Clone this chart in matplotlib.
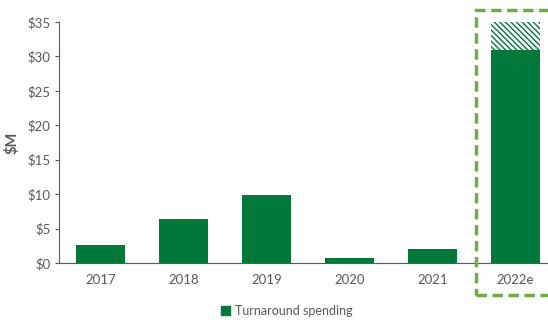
import matplotlib.pyplot as plt
from matplotlib.patches import Rectangle, Patch

years = ["2017", "2018", "2019", "2020", "2021", "2022e"]
spending = [2.6, 6.4, 9.9, 0.7, 2.0, 31.0]
upside = [0, 0, 0, 0, 0, 4.0]
yticks = [0, 5, 10, 15, 20, 25, 30, 35]

green = "#00783a"
gray = "#595959"
plt.rcParams["font.family"] = ["Lato", "DejaVu Sans"]
plt.rcParams["hatch.color"] = green
plt.rcParams["hatch.linewidth"] = 1.0

fig = plt.figure(figsize=(5.48, 3.22), dpi=100)
ax = fig.add_axes([0.1077, 0.1832, 0.9088, 0.7484])

x = range(len(years))
ax.bar(x, spending, width=0.58, color=green)
ax.bar(x, upside, width=0.58, bottom=spending, color="white",
       hatch="\\\\\\\\\\\\", edgecolor=green, linewidth=0)

ax.set_xlim(-0.5, 5.5)
ax.set_ylim(0, 35)
ax.set_yticks(yticks)
ax.set_yticklabels([f"${v}" for v in yticks], color=gray, fontsize=9.5)
ax.set_xticks(list(x))
ax.set_xticklabels(years, color=gray, fontsize=9.5)
ax.tick_params(axis="x", length=0, pad=8)
ax.tick_params(axis="y", length=3, color=gray, pad=3)
ax.set_ylabel("$M", color=gray, fontsize=10.5, fontweight="bold", labelpad=6)
for s in ["top", "right"]:
    ax.spines[s].set_visible(False)
ax.spines["left"].set_color(gray)
ax.spines["bottom"].set_color(gray)

box = Rectangle((476 / 548, 1 - 295 / 322), 90 / 548, 285 / 322,
                transform=fig.transFigure, fill=False, edgecolor="#70ad47",
                linewidth=2.5, linestyle=(0, (3, 1.6)), clip_on=False)
fig.patches.append(box)

fig.legend(handles=[Patch(color=green, label="Turnaround spending")],
           loc="center", bbox_to_anchor=(287 / 548, 1 - 311 / 322),
           frameon=False, fontsize=9, labelcolor=gray,
           handlelength=0.7, handleheight=0.7, handletextpad=0.4)

fig.savefig("out.png", dpi=100)
